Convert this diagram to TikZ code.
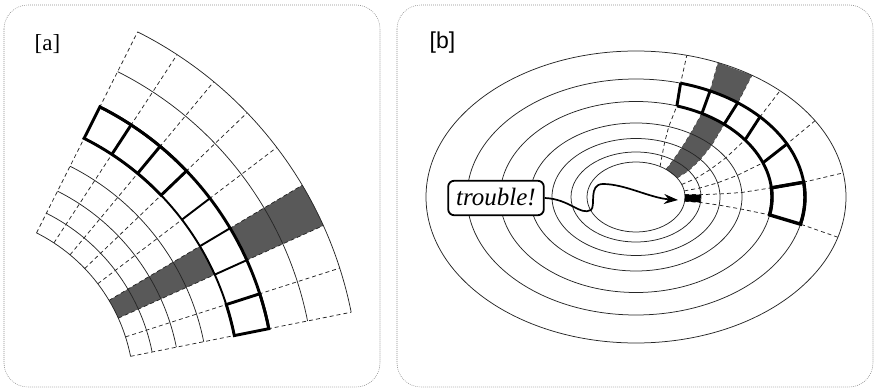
\documentclass[tikz,border=0pt]{standalone}
\usepackage{fontspec}
\setmainfont{Liberation Serif}
\setsansfont{Liberation Sans}
\usetikzlibrary{arrows.meta}

% points d'un rayon sur les ellipses (de l'interieur vers l'exterieur)
\newcommand{\rayonb}[2]{%
  \foreach \t [count=\i] in {#2} {%
    \pgfmathsetmacro{\ra}{{49,65,84,106,136,169,210}[\i-1]}%
    \pgfmathsetmacro{\rb}{{35,45,58.5,74,95.5,118,146}[\i-1]}%
    \coordinate (r#1-\i) at ({\ra*cos(\t)},{-\rb*sin(\t)});
  }%
}

\begin{document}
\begin{tikzpicture}[x=1pt, y=-1pt,
    cadre/.style={draw=black!45, line width=0.6pt, dash pattern=on 0.8pt off 1.2pt, rounded corners=24pt},
    grille/.style={line width=0.75pt, black!85},
    rayon/.style={line width=0.75pt, black!85, dash pattern=on 4pt off 3pt},
    gris/.style={fill=black!65},
    moyen/.style={line width=1.9pt},
    epais/.style={line width=2.9pt},
    etiquette/.style={inner sep=0pt, font=\fontsize{23}{26}\selectfont\rmfamily},
    boite/.style={draw, line width=1.8pt, fill=white, rounded corners=6pt,
      inner xsep=8pt, inner ysep=7pt, text height=17.5pt, text depth=3pt,
      font=\fontsize{25}{28}\selectfont\rmfamily\itshape},
    fleche/.style={line width=1.7pt, -{Stealth[length=14pt, width=10pt]}}]
  \useasboundingbox (0,0) rectangle (876,390);
  % cadres
  \draw[cadre] (4,5) rectangle (380,387);
  \draw[cadre] (397,5) rectangle (873,387);
  \node[etiquette] (a) at (47.5,44) {[a]};
  \node[etiquette, font=\fontsize{23}{26}\selectfont\sffamily] (b) at (442.5,43) {[b]};

  % grille polaire [a]
  \begin{scope}[shift={(-43,391)}]
    \fill[gris] (-24.3:177) arc[start angle=-24.3, end angle=-30.8, radius=177]
      -- (-30.8:282.8) arc[start angle=-30.8, end angle=-24.3, radius=282.8] -- cycle;
    \fill[gris] (-24.3:318) arc[start angle=-24.3, end angle=-30.8, radius=318]
      -- (-30.8:402) arc[start angle=-30.8, end angle=-24.3, radius=402] -- cycle;
    \foreach \r in {177,199,223.7,251.6,282.8,318,357.5,402}
      \draw[grille] (-11.3:\r) arc[start angle=-11.3, end angle=-63.3, radius=\r];
    \foreach \t in {11.3,17.8,24.3,30.8,37.3,43.8,50.3,56.8,63.3}
      \draw[rayon] (-\t:177) -- (-\t:402);
    % anneau
    \draw[moyen] (-11.3:282.8) arc[start angle=-11.3, end angle=-63.3, radius=282.8];
    \foreach \t in {24.3,30.8,37.3,43.8}
      \draw[moyen] (-\t:282.8) -- (-\t:318);
    \draw[epais] (-11.3:318) arc[start angle=-11.3, end angle=-63.3, radius=318];
    \draw[epais] (-43.8:282.8) arc[start angle=-43.8, end angle=-63.3, radius=282.8]
      -- (-63.3:318) arc[start angle=-63.3, end angle=-43.8, radius=318] -- cycle;
    \foreach \t in {50.3,56.8}
      \draw[epais] (-\t:282.8) -- (-\t:318);
    \draw[epais] (-11.3:282.8) arc[start angle=-11.3, end angle=-17.8, radius=282.8]
      -- (-17.8:318) arc[start angle=-17.8, end angle=-11.3, radius=318] -- cycle;
  \end{scope}

  % ellipses [b]
  \begin{scope}[shift={(636,197)}]
    \rayonb{0}{60.6,66.4,70,72,72.5,74.7,76}
    \rayonb{1}{52,55,57,59,61,64,67}
    \rayonb{2}{33,36,40,44.5,49.6,53,56.5}
    \rayonb{3}{21,24,28,32,36.7,42.8,46.7}
    \rayonb{4}{10,11.5,14,17,21,26.7,31.5}
    \rayonb{5}{4,3,3,3.5,5.5,7.2,9.5}
    \rayonb{6}{-7,-7,-8,-9.3,-10.8,-13.3,-16}
    \foreach \n in {0,...,6}
      \draw[rayon] (r\n-1) -- (r\n-2) -- (r\n-3) -- (r\n-4) -- (r\n-5) -- (r\n-6) -- (r\n-7);
    \fill[gris] (r1-6) -- (r2-6) -- (r2-7) -- (r1-7) -- cycle;
    \fill[gris] (r1-1) -- (r1-2) -- (r1-3) -- (r1-4) -- (r1-5)
      -- (r2-5) -- (r2-4) -- (r2-3) -- (r2-2) -- (r2-1) -- cycle;
    \foreach \a/\b in {210/146,169/118,136/95.5,106/74,84/58.5,65/45,49/35}
      \draw[grille] (0,0) ellipse[x radius=\a, y radius=\b];
    % anneau
    \draw[epais] (r0-6) arc[start angle=-74.7, end angle=13.3, x radius=169, y radius=118];
    \draw[epais] (r0-5) arc[start angle=-72.5, end angle=10.8, x radius=136, y radius=95.5];
    \foreach \n in {0,...,5}
      \draw[epais] (r\n-5) -- (r\n-6);
    \draw[line width=3.4pt] (r5-5) -- (r5-6) arc[start angle=-7.2, end angle=13.3, x radius=169, y radius=118]
      -- (r6-5) arc[start angle=10.8, end angle=-5.5, x radius=136, y radius=95.5] -- cycle;
    \fill (r5-1) -- (r5-2) -- (r6-2) -- (r6-1) -- cycle;
  \end{scope}
  \coordinate (pole) at (678,200);
  \node[boite] (trouble) at (496,198) {trouble!};
  \draw[fleche] (trouble.east) .. controls (570,199) and (580,216) .. (591,210)
    .. controls (596,206) and (588,184) .. (603,184)
    .. controls (625,184) and (650,198) .. (pole);
\end{tikzpicture}
\end{document}
